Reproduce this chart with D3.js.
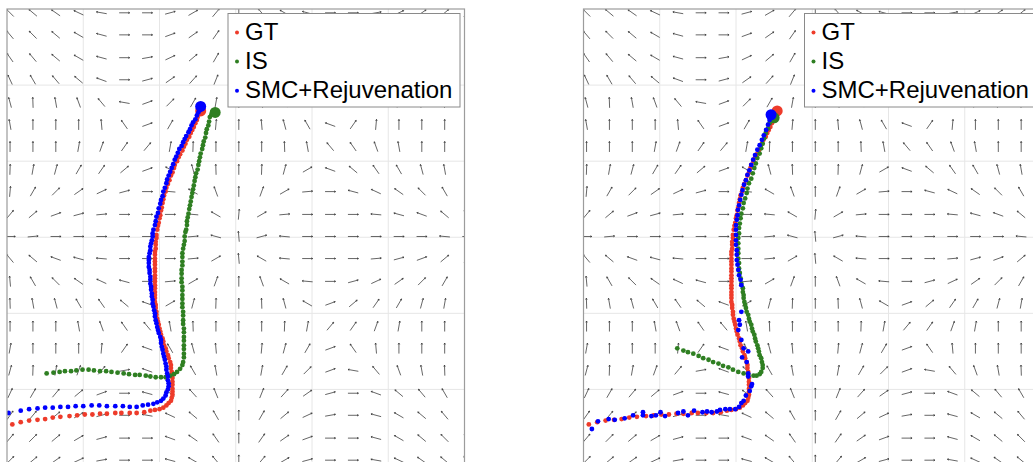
<!DOCTYPE html>
<html lang="en">
<head>
<meta charset="UTF-8">
<title>GT vs IS vs SMC+Rejuvenation</title>
<script src="https://d3js.org/d3.v7.min.js"></script>
<style>
  body { margin: 0; background: #fff; }
  text { font-family: "Liberation Sans", Arial, Helvetica, sans-serif; }
</style>
</head>
<body>
<svg id="chart" width="1033" height="462"></svg>
<script>
// ---- data ----
const seriesNames = ["GT", "IS", "SMC+Rejuvenation"];
const seriesColors = ["#ee3b2a", "#2f7f22", "#0000ff"];
const gridTicks = [-2, -1, 0, 1, 2];

// quiver grid: positions and segment angle (degrees, 0 = horizontal, 90 = vertical)
const fieldXs = [-2.96,-2.66,-2.36,-2.06,-1.76,-1.46,-1.16,-0.86,-0.56,-0.26,0.04,0.34,0.64,0.94,1.24,1.54,1.84,2.14,2.44,2.74,3.04];
const fieldYs = [2.95,2.66,2.36,2.07,1.77,1.48,1.19,0.89,0.60,0.30,0.01,-0.28,-0.58,-0.87,-1.17,-1.46,-1.75,-2.05,-2.34,-2.64,-2.93];
const fieldAngles = [
  [135,140,145,155,170,0,0,15,30,50,90,130,150,165,0,0,10,25,35,40,45],
  [130,135,140,150,165,0,0,20,35,55,90,125,145,160,0,0,15,30,40,45,50],
  [125,130,140,150,165,0,10,25,40,60,90,120,140,155,170,0,15,30,40,50,55],
  [115,120,130,140,160,0,15,35,48,68,90,112,132,145,165,0,20,40,50,60,65],
  [105,92,100,110,130,170,20,45,60,80,90,100,120,135,160,10,50,70,80,88,75],
  [100,90,90,90,95,125,20,60,75,85,90,95,105,120,160,55,85,90,90,90,80],
  [90,90,90,80,70,55,50,80,88,90,90,90,92,100,130,125,110,100,90,90,90],
  [88,80,75,60,55,40,20,150,105,92,90,88,75,30,160,140,125,120,105,100,92],
  [85,60,45,35,25,15,0,175,150,110,90,70,30,5,0,165,155,145,135,120,95],
  [50,40,20,15,5,0,0,0,175,150,85,30,5,0,0,0,175,165,160,140,130],
  [0,5,0,0,0,0,0,0,5,165,95,15,175,0,0,0,0,0,0,175,0],
  [130,140,160,165,175,0,0,0,5,30,95,150,175,0,0,0,5,15,20,40,50],
  [95,120,135,145,155,165,0,5,30,70,90,110,150,175,0,15,25,35,45,60,85],
  [92,100,105,120,125,140,160,30,75,88,90,92,105,150,20,40,55,60,75,80,88],
  [90,90,90,100,110,125,130,100,92,90,90,90,88,80,50,55,70,80,90,90,90],
  [80,90,90,90,85,55,160,120,105,95,90,85,75,60,20,125,95,90,90,90,100],
  [75,88,80,70,50,10,160,135,120,100,90,80,60,45,20,170,130,110,100,92,105],
  [65,60,50,40,20,0,165,145,132,112,90,68,48,35,15,0,160,140,130,120,115],
  [55,50,40,30,15,0,170,155,140,120,90,60,40,25,10,0,165,150,140,130,125],
  [50,45,40,30,15,0,0,160,145,125,90,55,35,20,0,0,165,150,140,135,130],
  [45,40,35,25,10,0,0,165,150,130,90,50,30,15,0,0,170,155,145,140,135]
];

// ground truth (same in both panels)
const gtPath = [
  [-2.93,-2.46],[-2.82,-2.43],[-2.71,-2.41],[-2.60,-2.40],[-2.50,-2.39],[-2.40,-2.37],[-2.30,-2.36],[-2.18,-2.35],[-2.08,-2.34],[-1.98,-2.33],
  [-1.88,-2.33],[-1.78,-2.32],[-1.69,-2.32],[-1.58,-2.31],[-1.50,-2.31],[-1.39,-2.31],[-1.30,-2.31],[-1.20,-2.30],[-1.12,-2.28],[-1.06,-2.27],
  [-1.00,-2.26],[-0.95,-2.24],[-0.91,-2.21],[-0.88,-2.18],[-0.85,-2.15],[-0.84,-2.11],[-0.83,-2.07],[-0.83,-2.03],[-0.83,-1.99],[-0.83,-1.94],
  [-0.83,-1.90],[-0.83,-1.85],[-0.84,-1.81],[-0.84,-1.77],[-0.85,-1.72],[-0.85,-1.68],[-0.86,-1.64],[-0.88,-1.59],[-0.89,-1.55],[-0.91,-1.50],
  [-0.92,-1.46],[-0.94,-1.42],[-0.95,-1.37],[-0.96,-1.33],[-0.98,-1.28],[-0.99,-1.24],[-1.00,-1.20],[-1.01,-1.15],[-1.02,-1.11],[-1.03,-1.07],
  [-1.04,-1.02],[-1.04,-0.98],[-1.05,-0.93],[-1.05,-0.89],[-1.06,-0.85],[-1.06,-0.80],[-1.06,-0.76],[-1.06,-0.72],[-1.06,-0.67],[-1.06,-0.63],
  [-1.06,-0.58],[-1.06,-0.54],[-1.06,-0.50],[-1.06,-0.45],[-1.06,-0.41],[-1.06,-0.36],[-1.06,-0.32],[-1.06,-0.28],[-1.06,-0.23],[-1.06,-0.19],
  [-1.05,-0.15],[-1.05,-0.10],[-1.05,-0.06],[-1.04,-0.01],[-1.04,0.03],[-1.03,0.10],[-1.02,0.15],[-1.01,0.19],[-1.00,0.25],[-0.99,0.29],
  [-0.98,0.35],[-0.97,0.39],[-0.96,0.45],[-0.95,0.50],[-0.94,0.55],[-0.92,0.60],[-0.91,0.65],[-0.89,0.70],[-0.87,0.75],[-0.85,0.81],
  [-0.83,0.85],[-0.81,0.91],[-0.80,0.95],[-0.77,1.00],[-0.75,1.05],[-0.73,1.09],[-0.70,1.14],[-0.68,1.19],[-0.66,1.23],[-0.64,1.28],
  [-0.61,1.32],[-0.59,1.37],[-0.57,1.41],[-0.55,1.45],[-0.53,1.50],[-0.51,1.54],[-0.50,1.58],[-0.48,1.63],[-0.46,1.66]
];

// left panel
const isLeft = [
  [-2.48,-1.79],[-2.39,-1.78],[-2.31,-1.77],[-2.24,-1.76],[-2.16,-1.76],[-2.09,-1.75],[-2.01,-1.74],[-1.93,-1.74],[-1.86,-1.75],[-1.78,-1.76],
  [-1.70,-1.76],[-1.63,-1.77],[-1.55,-1.78],[-1.47,-1.79],[-1.40,-1.80],[-1.32,-1.81],[-1.26,-1.81],[-1.18,-1.82],[-1.12,-1.83],[-1.05,-1.84],
  [-0.98,-1.84],[-0.92,-1.84],[-0.86,-1.82],[-0.81,-1.80],[-0.77,-1.77],[-0.73,-1.73],[-0.70,-1.68],[-0.69,-1.64],[-0.68,-1.58],[-0.68,-1.53],
  [-0.68,-1.47],[-0.68,-1.42],[-0.68,-1.36],[-0.68,-1.31],[-0.68,-1.25],[-0.68,-1.20],[-0.69,-1.14],[-0.69,-1.09],[-0.69,-1.03],[-0.69,-0.98],
  [-0.70,-0.92],[-0.70,-0.87],[-0.70,-0.81],[-0.70,-0.76],[-0.70,-0.70],[-0.70,-0.65],[-0.71,-0.59],[-0.71,-0.54],[-0.71,-0.48],[-0.71,-0.43],
  [-0.70,-0.37],[-0.70,-0.32],[-0.70,-0.26],[-0.70,-0.21],[-0.69,-0.15],[-0.68,-0.10],[-0.67,-0.05],[-0.67,0.01],[-0.66,0.07],[-0.65,0.10],
  [-0.64,0.16],[-0.64,0.21],[-0.63,0.26],[-0.62,0.31],[-0.61,0.37],[-0.60,0.42],[-0.59,0.47],[-0.58,0.53],[-0.57,0.58],[-0.56,0.63],
  [-0.55,0.68],[-0.54,0.74],[-0.53,0.79],[-0.52,0.84],[-0.50,0.89],[-0.49,0.95],[-0.48,1.00],[-0.47,1.05],[-0.46,1.10],[-0.44,1.16],
  [-0.43,1.21],[-0.42,1.26],[-0.40,1.31],[-0.39,1.37],[-0.38,1.42],[-0.36,1.47],[-0.35,1.52],[-0.34,1.58],[-0.32,1.61],[-0.27,1.64]
];
const smcLeft = [
  [-2.98,-2.31],[-2.82,-2.28],[-2.71,-2.26],[-2.60,-2.25],[-2.50,-2.24],[-2.40,-2.24],[-2.30,-2.23],[-2.20,-2.23],[-2.10,-2.22],[-2.00,-2.22],
  [-1.89,-2.21],[-1.79,-2.21],[-1.69,-2.22],[-1.58,-2.22],[-1.48,-2.22],[-1.39,-2.23],[-1.30,-2.23],[-1.22,-2.21],[-1.15,-2.20],[-1.08,-2.19],
  [-1.03,-2.17],[-0.98,-2.15],[-0.95,-2.12],[-0.92,-2.08],[-0.91,-2.04],[-0.89,-2.00],[-0.88,-1.96],[-0.88,-1.92],[-0.89,-1.88],[-0.89,-1.83],
  [-0.90,-1.79],[-0.91,-1.74],[-0.91,-1.70],[-0.92,-1.66],[-0.93,-1.61],[-0.94,-1.57],[-0.95,-1.53],[-0.96,-1.48],[-0.97,-1.44],[-0.98,-1.39],
  [-0.98,-1.35],[-0.99,-1.31],[-1.01,-1.26],[-1.02,-1.22],[-1.03,-1.18],[-1.04,-1.13],[-1.05,-1.09],[-1.06,-1.04],[-1.06,-1.00],[-1.07,-0.96],
  [-1.08,-0.91],[-1.09,-0.87],[-1.09,-0.82],[-1.10,-0.78],[-1.10,-0.74],[-1.11,-0.69],[-1.11,-0.65],[-1.12,-0.61],[-1.12,-0.56],[-1.12,-0.52],
  [-1.13,-0.47],[-1.13,-0.43],[-1.14,-0.39],[-1.14,-0.34],[-1.14,-0.30],[-1.14,-0.26],[-1.13,-0.21],[-1.12,-0.17],[-1.12,-0.12],[-1.11,-0.08],
  [-1.10,-0.04],[-1.09,0.01],[-1.09,0.05],[-1.08,0.10],[-1.06,0.16],[-1.05,0.21],[-1.04,0.27],[-1.02,0.32],[-1.01,0.38],[-0.99,0.44],
  [-0.98,0.49],[-0.96,0.54],[-0.95,0.60],[-0.93,0.65],[-0.91,0.71],[-0.90,0.76],[-0.88,0.81],[-0.86,0.86],[-0.84,0.91],[-0.82,0.96],
  [-0.80,1.02],[-0.78,1.06],[-0.76,1.11],[-0.74,1.16],[-0.71,1.20],[-0.69,1.25],[-0.67,1.29],[-0.65,1.33],[-0.62,1.38],[-0.60,1.42],
  [-0.58,1.47],[-0.56,1.51],[-0.53,1.55],[-0.51,1.60],[-0.49,1.64],[-0.47,1.67],[-0.46,1.72]
];

// right panel
const isRight = [
  [-1.77,-1.46],[-1.69,-1.49],[-1.63,-1.51],[-1.56,-1.53],[-1.49,-1.56],[-1.43,-1.59],[-1.36,-1.61],[-1.30,-1.64],[-1.23,-1.66],[-1.17,-1.69],
  [-1.10,-1.71],[-1.04,-1.74],[-0.97,-1.77],[-0.90,-1.79],[-0.84,-1.81],[-0.77,-1.82],[-0.73,-1.82],[-0.69,-1.80],[-0.67,-1.77],[-0.65,-1.72],
  [-0.65,-1.68],[-0.66,-1.64],[-0.67,-1.59],[-0.69,-1.55],[-0.70,-1.50],[-0.71,-1.46],[-0.72,-1.42],[-0.74,-1.37],[-0.75,-1.33],[-0.76,-1.28],
  [-0.78,-1.24],[-0.79,-1.20],[-0.80,-1.15],[-0.82,-1.11],[-0.83,-1.07],[-0.84,-1.02],[-0.86,-0.98],[-0.87,-0.93],[-0.88,-0.89],[-0.89,-0.85],
  [-0.90,-0.80],[-0.90,-0.76],[-0.91,-0.72],[-0.91,-0.67],[-0.93,-0.61],[-0.94,-0.54],[-0.95,-0.47],[-0.96,-0.41],[-0.96,-0.34],[-0.97,-0.28],
  [-0.97,-0.21],[-0.97,-0.15],[-0.97,-0.08],[-0.97,-0.01],[-0.96,0.05],[-0.96,0.12],[-0.95,0.18],[-0.94,0.25],[-0.93,0.31],[-0.91,0.38],
  [-0.90,0.45],[-0.88,0.51],[-0.86,0.58],[-0.85,0.64],[-0.83,0.71],[-0.80,0.77],[-0.78,0.84],[-0.76,0.91],[-0.74,0.97],[-0.72,1.04],
  [-0.69,1.10],[-0.67,1.17],[-0.65,1.23],[-0.63,1.30],[-0.61,1.37],[-0.58,1.43],[-0.56,1.50],[-0.54,1.54],[-0.50,1.57]
];
const smcRight = [
  [-2.89,-2.52],[-2.81,-2.42],[-2.67,-2.39],[-2.59,-2.40],[-2.46,-2.38],[-2.35,-2.34],[-2.22,-2.30],[-2.22,-2.34],[-2.11,-2.35],[-2.05,-2.34],
  [-1.99,-2.30],[-1.93,-2.35],[-1.76,-2.31],[-1.69,-2.29],[-1.63,-2.34],[-1.55,-2.28],[-1.44,-2.30],[-1.38,-2.29],[-1.32,-2.30],[-1.25,-2.29],
  [-1.21,-2.27],[-1.14,-2.26],[-1.08,-2.26],[-1.01,-2.26],[-0.96,-2.23],[-0.93,-2.18],[-0.90,-2.15],[-0.87,-2.08],[-0.82,-2.02],[-0.80,-1.96],
  [-0.79,-1.93],[-0.84,-1.83],[-0.84,-1.79],[-0.86,-1.64],[-0.92,-1.58],[-0.84,-1.50],[-0.90,-1.46],[-0.93,-1.35],[-0.97,-1.22],[-0.95,-1.15],
  [-0.96,-1.09],[-0.93,-0.98],[-0.93,-0.63],[-0.94,-0.56],[-0.96,-0.50],[-0.97,-0.43],[-0.98,-0.36],[-0.99,-0.30],[-0.99,-0.23],[-0.99,-0.17],
  [-1.00,-0.10],[-1.00,-0.04],[-1.00,0.03],[-1.00,0.10],[-1.00,0.16],[-0.99,0.23],[-0.98,0.29],[-0.975,0.36],[-0.96,0.42],[-0.945,0.49],
  [-0.93,0.56],[-0.915,0.62],[-0.895,0.69],[-0.87,0.75],[-0.85,0.82],[-0.825,0.88],[-0.80,0.95],[-0.775,1.02],[-0.75,1.08],[-0.72,1.15],
  [-0.69,1.21],[-0.66,1.28],[-0.635,1.34],[-0.605,1.41],[-0.58,1.48],[-0.56,1.54],[-0.54,1.61]
];

const panelSeries = [
  [gtPath, isLeft, smcLeft],
  [gtPath, isRight, smcRight]
];

// ---- layout ----
const panelLefts = [7, 583.5];
const plotTop = 9, plotW = 457.5, plotH = 456.5;
const arrowLen = 10.5, dotR = 2.4, endR = 5.5;

const svg = d3.select("#chart");
const defs = svg.append("defs");

panelLefts.forEach((left, p) => {
  const x = d3.scaleLinear().domain([-3, 3]).range([left, left + plotW]);
  const y = d3.scaleLinear().domain([-3, 3]).range([plotTop + plotH, plotTop]);

  defs.append("clipPath").attr("id", "clip" + p)
    .append("rect").attr("x", left).attr("y", plotTop).attr("width", plotW).attr("height", plotH);

  const g = svg.append("g");
  const inner = g.append("g").attr("clip-path", `url(#clip${p})`);

  // grid
  inner.selectAll(".vgrid").data(gridTicks).join("line")
    .attr("x1", d => x(d)).attr("x2", d => x(d))
    .attr("y1", plotTop).attr("y2", plotTop + plotH)
    .attr("stroke", "#e6e6e6").attr("stroke-width", 1);
  inner.selectAll(".hgrid").data(gridTicks).join("line")
    .attr("y1", d => y(d)).attr("y2", d => y(d))
    .attr("x1", left).attr("x2", left + plotW)
    .attr("stroke", "#e6e6e6").attr("stroke-width", 1);

  // quiver field
  const arrows = [];
  fieldYs.forEach((fy, j) => fieldXs.forEach((fx, i) => arrows.push({fx, fy, a: fieldAngles[j][i]})));
  const arrowPath = d => {
    const cx = x(d.fx), cy = y(d.fy);
    const t = d.a * Math.PI / 180;
    const ux = Math.cos(t), uy = -Math.sin(t);
    const h = arrowLen / 2;
    const x1 = cx - ux * h, y1 = cy - uy * h, x2 = cx + ux * h, y2 = cy + uy * h;
    const b = 1.6, s = 0.5;
    const bx1 = x2 - b * (ux * Math.cos(s) - uy * Math.sin(s));
    const by1 = y2 - b * (uy * Math.cos(s) + ux * Math.sin(s));
    const bx2 = x2 - b * (ux * Math.cos(-s) - uy * Math.sin(-s));
    const by2 = y2 - b * (uy * Math.cos(-s) + ux * Math.sin(-s));
    return `M${x1},${y1}L${x2},${y2}M${bx1},${by1}L${x2},${y2}L${bx2},${by2}`;
  };
  inner.append("g").selectAll("path").data(arrows).join("path")
    .attr("d", arrowPath)
    .attr("fill", "none").attr("stroke", "#333").attr("stroke-width", 0.75);

  // trajectories
  panelSeries[p].forEach((pts, k) => {
    inner.append("g").selectAll("circle").data(pts).join("circle")
      .attr("cx", d => x(d[0])).attr("cy", d => y(d[1]))
      .attr("r", (d, i) => i === pts.length - 1 ? endR : dotR)
      .attr("fill", seriesColors[k]);
  });

  // axes box
  g.append("rect")
    .attr("x", left).attr("y", plotTop).attr("width", plotW).attr("height", plotH)
    .attr("fill", "none").attr("stroke", "#9c9c9c").attr("stroke-width", 1.2);

  // legend
  const lg = g.append("g");
  lg.append("rect")
    .attr("x", left + 221).attr("y", 13.5).attr("width", 232).attr("height", 93.5)
    .attr("fill", "#fff").attr("stroke", "#8a8a8a").attr("stroke-width", 1);
  seriesNames.forEach((name, k) => {
    const base = 39.5 + k * 29.1;
    lg.append("circle").attr("cx", left + 230).attr("cy", base - 7).attr("r", 2)
      .attr("fill", seriesColors[k]);
    lg.append("text").attr("x", left + 238).attr("y", base)
      .attr("font-size", "24px").attr("fill", "#000").text(name);
  });
});
</script>
</body>
</html>
